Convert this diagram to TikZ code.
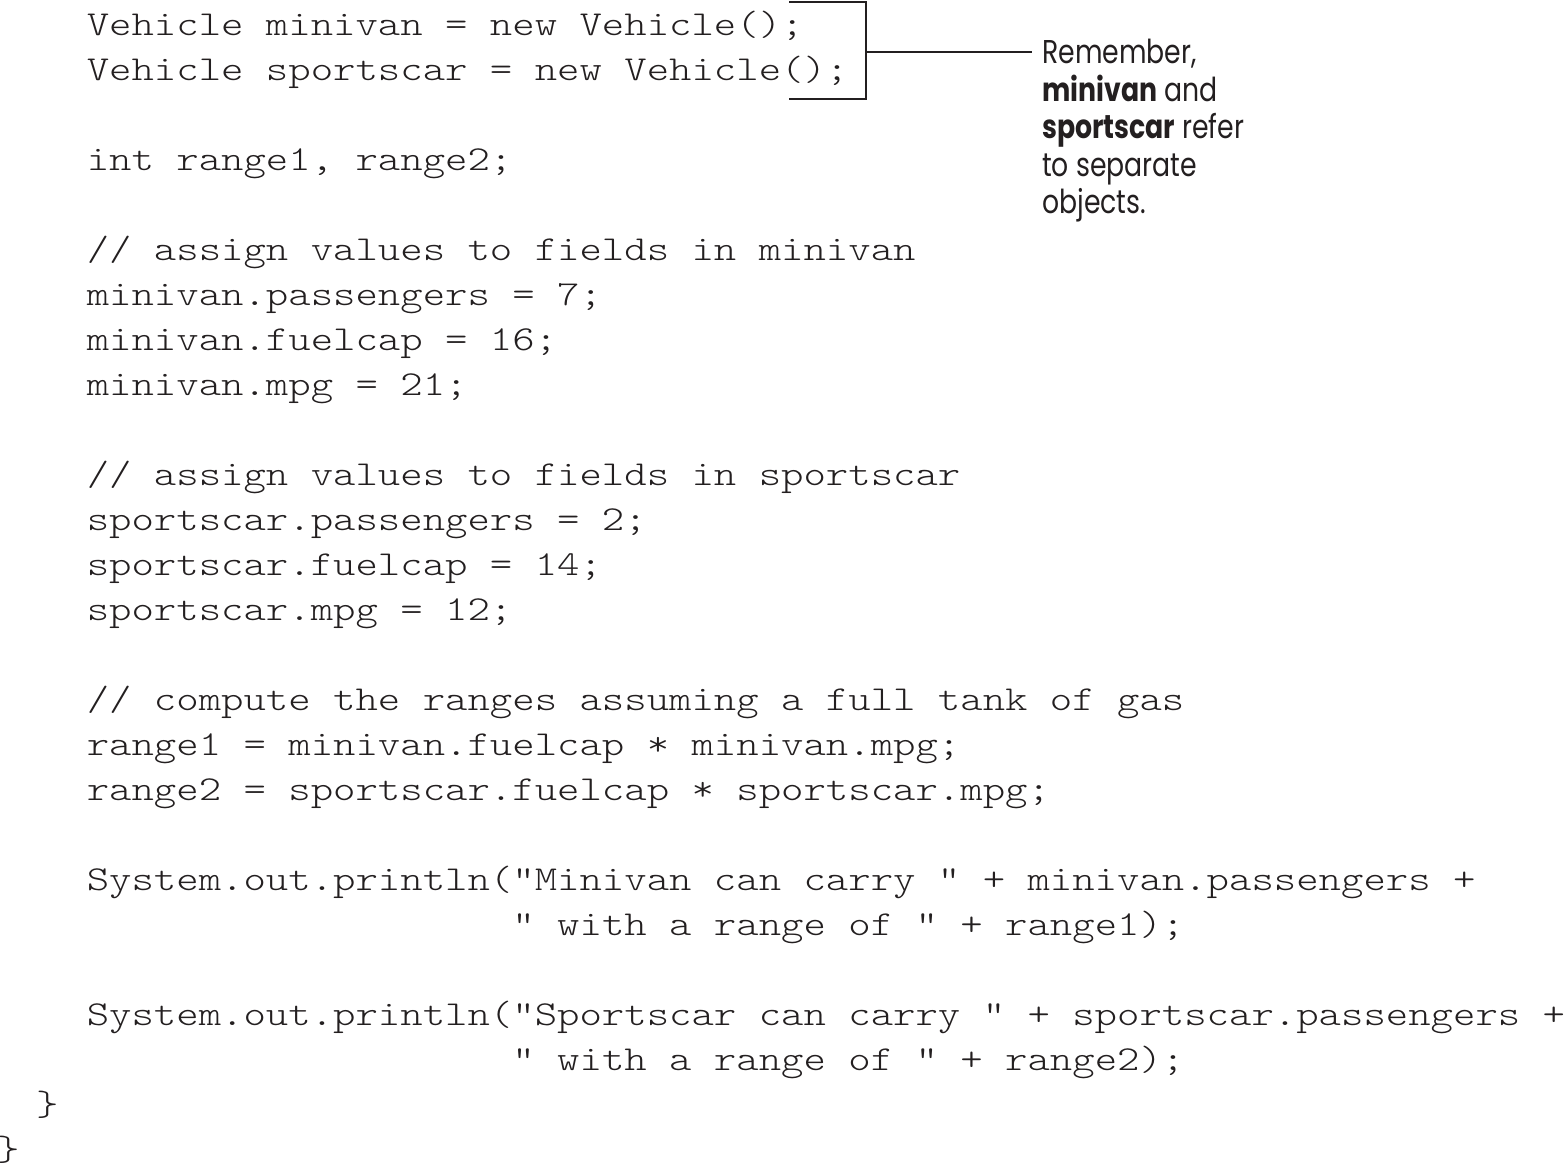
\documentclass[tikz,border=0pt]{standalone}
\usepackage{fontspec}
\newfontfamily\codefont{lmmonolt10-regular.otf}[FakeStretch=1.219,WordSpace={1,0,0}]
\newfontfamily\notefont{Poppins}[FakeStretch=0.81]
\definecolor{ink}{HTML}{231F20}
\frenchspacing
\begin{document}
\begin{tikzpicture}[x=1pt,y=-1pt,
  code/.style={anchor=base west, inner sep=0pt, text=ink,
    font=\codefont\fontsize{35pt}{45pt}\selectfont},
  note/.style={anchor=base west, inner sep=0pt, text=ink,
    font=\notefont\fontsize{33pt}{37pt}\selectfont},
  bracket/.style={draw=ink, line width=2pt}]
\useasboundingbox (0,0) rectangle (1567,1168);
\def\cw{22.4}
\def\xo{-3}
% code lines: x = xo + col*cw, baseline y = 35 + 45*row
\node[code] (l0)  at ({\xo+4*\cw},{35+45*0})  {Vehicle minivan = new Vehicle();};
\node[code] (l1)  at ({\xo+4*\cw},{35+45*1})  {Vehicle sportscar = new Vehicle();};
\node[code] (l3)  at ({\xo+4*\cw},{35+45*3})  {int range1, range2;};
\node[code] (l5)  at ({\xo+4*\cw},{35+45*5})  {// assign values to fields in minivan};
\node[code] (l6)  at ({\xo+4*\cw},{35+45*6})  {minivan.passengers = 7;};
\node[code] (l7)  at ({\xo+4*\cw},{35+45*7})  {minivan.fuelcap = 16;};
\node[code] (l8)  at ({\xo+4*\cw},{35+45*8})  {minivan.mpg = 21;};
\node[code] (l10) at ({\xo+4*\cw},{35+45*10}) {// assign values to fields in sportscar};
\node[code] (l11) at ({\xo+4*\cw},{35+45*11}) {sportscar.passengers = 2;};
\node[code] (l12) at ({\xo+4*\cw},{35+45*12}) {sportscar.fuelcap = 14;};
\node[code] (l13) at ({\xo+4*\cw},{35+45*13}) {sportscar.mpg = 12;};
\node[code] (l15) at ({\xo+4*\cw},{35+45*15}) {// compute the ranges assuming a full tank of gas};
\node[code] (l16) at ({\xo+4*\cw},{35+45*16}) {range1 = minivan.fuelcap * minivan.mpg;};
\node[code] (l17) at ({\xo+4*\cw},{35+45*17}) {range2 = sportscar.fuelcap * sportscar.mpg;};
\node[code] (l19) at ({\xo+4*\cw},{35+45*19}) {System.out.println("Minivan can carry " + minivan.passengers +};
\node[code] (l20) at ({\xo+23*\cw},{35+45*20}) {" with a range of " + range1);};
\node[code] (l22) at ({\xo+4*\cw},{35+45*22}) {System.out.println("Sportscar can carry " + sportscar.passengers +};
\node[code] (l23) at ({\xo+23*\cw},{35+45*23}) {" with a range of " + range2);};
\node[code] (l24) at ({\xo+2*\cw-6},{35+45*24}) {\}};
\node[code] (l25) at ({\xo+0*\cw},{35+45*25}) {\}};
% bracket and leader
\coordinate (bt) at (789,2);
\coordinate (bb) at (789,99);
\coordinate (bm) at (866,52);
\coordinate (le) at (1032,52);
\draw[bracket] (bt) -- (bt -| bm) -- (bb -| bm) -- (bb);
\draw[bracket] (bm) -- (le);
% annotation
\node[note] (n1) at (1042,63)  {Remember,};
\node[note] (n2) at (1042,101) {\textbf{minivan} and};
\node[note] (n3) at (1042,138) {\textbf{sportscar} refer};
\node[note] (n4) at (1042,176) {to separate};
\node[note] (n5) at (1042,213) {objects.};
\end{tikzpicture}
\end{document}
